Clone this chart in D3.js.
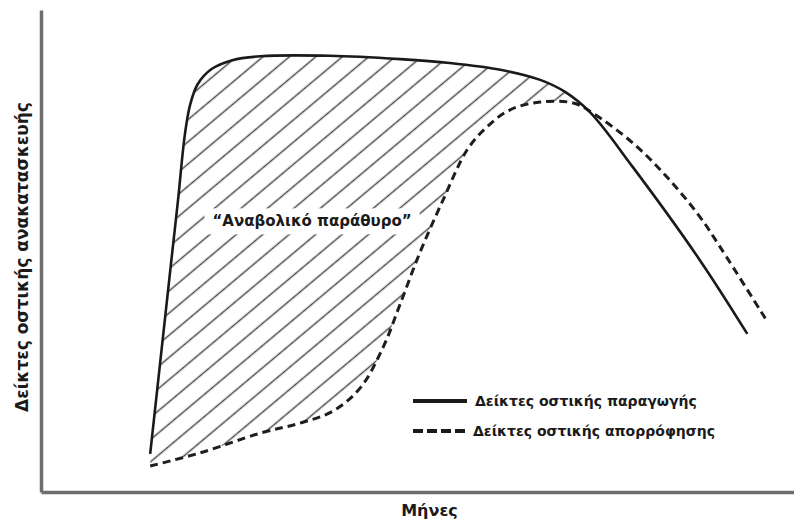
<!DOCTYPE html>
<html>
<head>
<meta charset="utf-8">
<script src="https://cdn.jsdelivr.net/npm/d3@7"></script>
<style>
  body { margin: 0; background: #fff; }
  svg { display: block; }
  text { font-family: "DejaVu Sans", sans-serif; font-weight: bold; fill: #1a1a1a; }
</style>
</head>
<body>
<div class="chart-container"></div>
<script>
// curve readings (arbitrary units, 0-100 on both axes)
const formationX = [14.5, 17.3, 18.2, 19.1, 19.8, 20.8, 22.7, 25.4, 29.1, 38.4, 47.7, 54.3, 61.0, 66.3, 69.6, 72.9, 78.6, 87.5, 93.8];
const formationY = [7.9, 47.9, 60.6, 74.1, 80.3, 84.6, 87.8, 89.6, 90.4, 90.5, 89.8, 89.0, 87.6, 85.5, 83.0, 78.8, 67.4, 48.1, 32.8];
const resorptionX = [14.5, 21.1, 29.1, 34.4, 38.8, 42.4, 45.4, 47.7, 50.3, 53.4, 56.6, 59.2, 62.3, 66.3, 70.7, 73.3, 78.6, 83.1, 87.5, 90.2, 96.4];
const resorptionY = [5.4, 8.1, 12.2, 14.3, 16.8, 21.6, 29.9, 39.0, 49.6, 60.6, 71.0, 75.7, 79.3, 80.9, 80.7, 78.6, 72.4, 65.4, 57.1, 50.8, 35.5];

const seriesNames = ['Δείκτες οστικής παραγωγής', 'Δείκτες οστικής απορρόφησης'];
const xTitle = 'Μήνες';
const yTitle = 'Δείκτες οστικής ανακατασκευής';
const windowLabel = '“Αναβολικό παράθυρο”';
const windowLabelAt = [36.0, 56.2];

const outerW = 794, outerH = 522;
const margin = { left: 41, right: 0, top: 10, bottom: 30 };

const formation = formationX.map((d, i) => ({ x: d, y: formationY[i] }));
const resorption = resorptionX.map((d, i) => ({ x: d, y: resorptionY[i] }));

const x = d3.scaleLinear().domain([0, 100]).range([margin.left, outerW - margin.right]);
const y = d3.scaleLinear().domain([0, 100]).range([outerH - margin.bottom, margin.top]);

const curve = d3.curveCatmullRom.alpha(0.5);

const svg = d3.select('.chart-container').append('svg')
  .attr('width', outerW)
  .attr('height', outerH);

const defs = svg.append('defs');

// hatch for the window between the curves
const hatch = defs.append('pattern')
  .attr('id', 'hatch')
  .attr('patternUnits', 'userSpaceOnUse')
  .attr('width', 17)
  .attr('height', 17)
  .attr('patternTransform', 'rotate(50)');
hatch.append('line')
  .attr('x1', 8.5).attr('y1', 0)
  .attr('x2', 8.5).attr('y2', 17)
  .attr('stroke', '#4a4a4a')
  .attr('stroke-width', 1.5);

const belowFormation = d3.area()
  .x(d => x(d.x))
  .y0(y(0))
  .y1(d => y(d.y))
  .curve(curve);

const aboveResorption = d3.area()
  .x(d => x(d.x))
  .y0(y(100))
  .y1(d => y(d.y))
  .curve(curve);

defs.append('clipPath').attr('id', 'clip-below')
  .append('path').attr('d', belowFormation(formation));
defs.append('clipPath').attr('id', 'clip-above')
  .append('path').attr('d', aboveResorption(resorption));

svg.append('g')
  .attr('clip-path', 'url(#clip-below)')
  .append('g')
  .attr('clip-path', 'url(#clip-above)')
  .append('rect')
  .attr('x', x(0))
  .attr('y', y(100))
  .attr('width', x(100) - x(0))
  .attr('height', y(0) - y(100))
  .attr('fill', 'url(#hatch)');

// axes: bare lines, no ticks
const axisStyle = g => g.select('.domain')
  .attr('stroke', '#6e6e6e')
  .attr('stroke-width', 3.5);

svg.append('g')
  .attr('transform', `translate(0, ${y(0)})`)
  .call(d3.axisBottom(x).ticks(0).tickSizeOuter(0))
  .call(axisStyle);

svg.append('g')
  .attr('transform', `translate(${x(0)}, 0)`)
  .call(d3.axisLeft(y).ticks(0).tickSizeOuter(0))
  .call(axisStyle);

const line = d3.line()
  .x(d => x(d.x))
  .y(d => y(d.y))
  .curve(curve);

svg.append('path')
  .attr('d', line(resorption))
  .attr('fill', 'none')
  .attr('stroke', '#1e1e1e')
  .attr('stroke-width', 3)
  .attr('stroke-dasharray', '8,5');

svg.append('path')
  .attr('d', line(formation))
  .attr('fill', 'none')
  .attr('stroke', '#1a1a1a')
  .attr('stroke-width', 2.6);

// window label on a white box
const labelG = svg.append('g');
const labelBox = labelG.append('rect').attr('fill', '#fff');
const labelText = labelG.append('text')
  .attr('x', x(windowLabelAt[0]))
  .attr('y', y(windowLabelAt[1]))
  .attr('dy', '0.35em')
  .attr('text-anchor', 'middle')
  .style('font-size', '15px')
  .text(windowLabel);
const bb = labelText.node().getBBox();
labelBox
  .attr('x', bb.x - 8)
  .attr('y', bb.y - 4)
  .attr('width', bb.width + 16)
  .attr('height', bb.height + 8);

// legend
const legend = svg.append('g')
  .attr('transform', 'translate(413, 401)');

const legendRow = legend.selectAll('g')
  .data(seriesNames)
  .enter()
  .append('g')
  .attr('transform', (d, i) => `translate(0, ${i * 30})`);

legendRow.append('line')
  .attr('x1', 0)
  .attr('x2', (d, i) => i === 0 ? 54 : 52)
  .attr('stroke', '#1a1a1a')
  .attr('stroke-width', 4)
  .attr('stroke-dasharray', (d, i) => i === 0 ? null : '10,4');

legendRow.append('text')
  .attr('x', (d, i) => i === 0 ? 62 : 60)
  .attr('dy', '0.35em')
  .style('font-size', '14px')
  .text(d => d);

// axis titles
svg.append('text')
  .attr('x', (x(0) + x(100)) / 2 + 12)
  .attr('y', outerH - 12)
  .attr('dy', '0.35em')
  .attr('text-anchor', 'middle')
  .style('font-size', '16px')
  .text(xTitle);

svg.append('text')
  .attr('transform', `translate(22, ${(y(0) + y(100)) / 2 + 6}) rotate(-90)`)
  .attr('dy', '0.35em')
  .attr('text-anchor', 'middle')
  .style('font-size', '17px')
  .text(yTitle);
</script>
</body>
</html>
